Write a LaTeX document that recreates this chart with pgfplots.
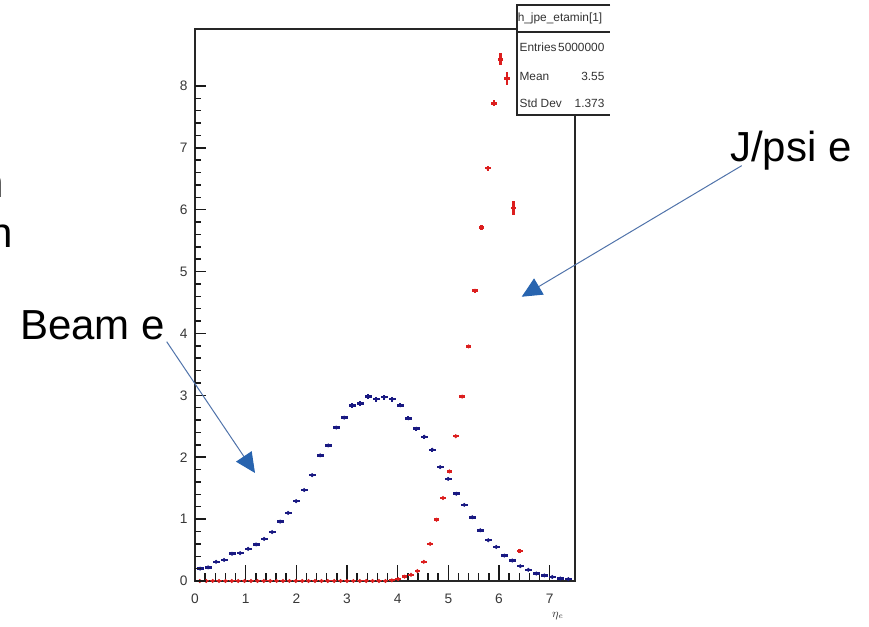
\documentclass[border=0pt]{standalone}
\usepackage{pgfplots}
\pgfplotsset{compat=1.18}
\usepackage{fontspec}
\setmainfont{Liberation Sans}
\usetikzlibrary{arrows.meta}

\definecolor{beamblue}{RGB}{25,25,130}
\definecolor{jpsired}{RGB}{220,30,30}
\definecolor{arrline}{RGB}{80,115,170}
\definecolor{arrhead}{RGB}{40,100,175}
\definecolor{ticktext}{RGB}{55,55,55}

\pgfplotsset{
  rootframe/.style={
    scale only axis, width=285pt, height=414pt,
    at={(146.25pt,34.5pt)}, anchor=south west,
    xmin=0, xmax=7.5, ymin=0, ymax=8.92,
    axis line style={line width=1.1pt, black!85},
    tick style={line width=1.1pt, black!90},
    tick align=inside,
    ticklabel style={font=\fontsize{10.3}{12}\selectfont, text=ticktext},
    /pgf/number format/assume math mode=true,
  },
  histo/.style={only marks, mark=*, mark size=1.3pt,
    error bars/.cd, x dir=both, x explicit, y dir=both, y explicit,
    error mark=none, error bar style={line width=1.9pt}},
}

\begin{document}
\begin{tikzpicture}
\useasboundingbox (0,0) rectangle (651.75pt,470.25pt);
\clip (0,0) rectangle (651.75pt,470.25pt);

% main frame, x ticks and the two histograms
\begin{axis}[rootframe,
  xtick={0,...,7}, minor x tick num=4, xtick pos=bottom,
  major tick length=12pt, minor tick length=6pt,
  ytick=\empty,
  xticklabel style={yshift=-6pt},
]
% beam electrons
\addplot[beamblue, histo] coordinates {
  (0.100,0.20) +- (0.07,0.02)
  (0.258,0.22) +- (0.07,0.02)
  (0.416,0.31) +- (0.07,0.02)
  (0.574,0.34) +- (0.07,0.02)
  (0.732,0.44) +- (0.07,0.02)
  (0.890,0.45) +- (0.07,0.02)
  (1.048,0.52) +- (0.07,0.02)
  (1.206,0.59) +- (0.07,0.02)
  (1.364,0.68) +- (0.07,0.02)
  (1.522,0.79) +- (0.07,0.02)
  (1.680,0.96) +- (0.07,0.02)
  (1.838,1.10) +- (0.07,0.02)
  (1.996,1.29) +- (0.07,0.02)
  (2.154,1.47) +- (0.07,0.02)
  (2.312,1.71) +- (0.07,0.02)
  (2.470,2.03) +- (0.07,0.03)
  (2.628,2.19) +- (0.07,0.03)
  (2.786,2.48) +- (0.07,0.03)
  (2.944,2.64) +- (0.07,0.03)
  (3.102,2.84) +- (0.07,0.04)
  (3.260,2.87) +- (0.07,0.04)
  (3.418,2.98) +- (0.07,0.04)
  (3.576,2.94) +- (0.07,0.04)
  (3.734,2.97) +- (0.07,0.04)
  (3.892,2.94) +- (0.07,0.04)
  (4.050,2.84) +- (0.07,0.03)
  (4.208,2.63) +- (0.07,0.03)
  (4.366,2.46) +- (0.07,0.03)
  (4.524,2.33) +- (0.07,0.03)
  (4.682,2.12) +- (0.07,0.03)
  (4.840,1.84) +- (0.07,0.02)
  (4.998,1.65) +- (0.07,0.02)
  (5.156,1.41) +- (0.07,0.02)
  (5.314,1.23) +- (0.07,0.02)
  (5.472,1.03) +- (0.07,0.02)
  (5.630,0.82) +- (0.07,0.02)
  (5.788,0.66) +- (0.07,0.02)
  (5.946,0.55) +- (0.07,0.02)
  (6.104,0.41) +- (0.07,0.02)
  (6.262,0.33) +- (0.07,0.02)
  (6.420,0.24) +- (0.07,0.02)
  (6.578,0.18) +- (0.07,0.02)
  (6.736,0.12) +- (0.07,0.02)
  (6.894,0.09) +- (0.07,0.02)
  (7.052,0.065) +- (0.07,0.02)
  (7.210,0.04) +- (0.07,0.02)
  (7.368,0.03) +- (0.07,0.02)
};
% J/psi electrons
\addplot[jpsired, histo] coordinates {
  (0.095,0) +- (0.055,0) (0.221,0) +- (0.055,0) (0.348,0) +- (0.055,0)
  (0.474,0) +- (0.055,0) (0.600,0) +- (0.055,0) (0.727,0) +- (0.055,0)
  (0.853,0) +- (0.055,0) (0.979,0) +- (0.055,0) (1.105,0) +- (0.055,0)
  (1.232,0) +- (0.055,0) (1.358,0) +- (0.055,0) (1.484,0) +- (0.055,0)
  (1.611,0) +- (0.055,0) (1.737,0) +- (0.055,0) (1.863,0) +- (0.055,0)
  (1.990,0) +- (0.055,0) (2.116,0) +- (0.055,0) (2.242,0) +- (0.055,0)
  (2.368,0) +- (0.055,0) (2.495,0) +- (0.055,0) (2.621,0) +- (0.055,0)
  (2.747,0) +- (0.055,0) (2.874,0) +- (0.055,0) (3.000,0) +- (0.055,0)
  (3.126,0) +- (0.055,0) (3.253,0) +- (0.055,0) (3.379,0) +- (0.055,0)
  (3.505,0) +- (0.055,0) (3.631,0) +- (0.055,0) (3.758,0) +- (0.055,0)
  (3.884,0.01) +- (0.055,0.01)
  (4.010,0.03) +- (0.055,0.01)
  (4.137,0.07) +- (0.055,0.01)
  (4.263,0.10) +- (0.055,0.01)
  (4.389,0.16) +- (0.055,0.02)
  (4.516,0.31) +- (0.055,0.02)
  (4.642,0.60) +- (0.055,0.02)
  (4.768,0.99) +- (0.055,0.02)
  (4.894,1.34) +- (0.055,0.02)
  (5.021,1.77) +- (0.055,0.02)
  (5.147,2.34) +- (0.055,0.02)
  (5.273,2.98) +- (0.055,0.02)
  (5.400,3.79) +- (0.055,0.03)
  (5.526,4.69) +- (0.055,0.03)
  (5.652,5.71) +- (0.055,0.04)
  (5.779,6.67) +- (0.055,0.04)
  (5.905,7.72) +- (0.055,0.05)
  (6.031,8.43) +- (0.055,0.10)
  (6.157,8.12) +- (0.055,0.11)
  (6.284,6.03) +- (0.055,0.11)
  (6.410,0.485) +- (0.055,0.03)
};
\end{axis}

% y ticks (ROOT draws them shorter than the x ticks)
\begin{axis}[rootframe,
  hide x axis, axis line style={draw=none},
  ytick={0,...,8}, minor y tick num=4, ytick pos=left,
  major tick length=8pt, minor tick length=4.5pt,
  yticklabel style={xshift=-2pt},
]
\end{axis}

\node[font=\fontsize{9}{10}\selectfont, text=ticktext] at (418.5pt,8.5pt) {$\eta_e$};

% stats box
\fill[white] (387.75pt,384pt) rectangle (460pt,468pt);
\draw[line width=1.3pt, black!85] (457.5pt,466.5pt) -- (387.75pt,466.5pt)
  -- (387.75pt,384pt) -- (457.5pt,384pt);
\draw[line width=1.3pt, black!85] (387.75pt,446.25pt) -- (457.5pt,446.25pt);
\begin{scope}[every node/.style={inner sep=0pt, text=black!80,
    font=\fontsize{8.9}{10}\selectfont}]
  \node at (420pt,456.75pt) {h\_jpe\_etamin[1]};
  \node[anchor=west] at (389.5pt,435pt) {Entries};
  \node[anchor=east] at (453.5pt,435pt) {5000000};
  \node[anchor=west] at (389.5pt,413.25pt) {Mean};
  \node[anchor=east] at (453.5pt,413.25pt) {3.55};
  \node[anchor=west] at (389.5pt,393pt) {Std Dev};
  \node[anchor=east] at (453.5pt,393pt) {1.373};
\end{scope}

% annotations
\begin{scope}[every node/.style={inner sep=0pt, font=\fontsize{31.5}{36}\selectfont}]
  \node[anchor=base west] at (547.5pt,348.75pt) {J/psi e};
  \node[anchor=base west] at (15pt,215.25pt) {Beam e};
  \node[anchor=base east] at (9.5pt,284.25pt) {n};
  \node[anchor=base east] at (3pt,321.75pt) {n};
\end{scope}
\draw[arrline, line width=0.75pt, -{Triangle[length=15pt, width=14pt, color=arrhead]}]
  (556.3pt,346pt) -- (391.3pt,247.7pt);
\draw[arrline, line width=0.75pt, -{Triangle[length=15pt, width=14pt, color=arrhead]}]
  (125pt,214pt) -- (191.25pt,115.5pt);
\end{tikzpicture}
\end{document}
